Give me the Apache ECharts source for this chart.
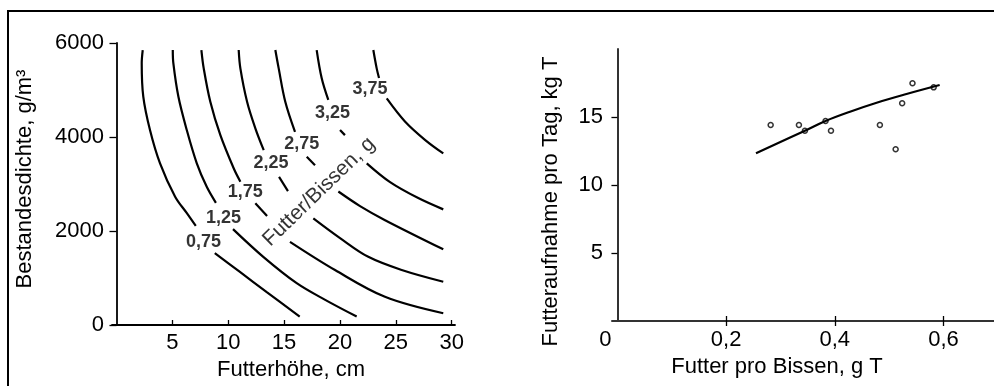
<!DOCTYPE html>
<html>
<head>
<meta charset="utf-8">
<script src="https://cdn.jsdelivr.net/npm/echarts@6/dist/echarts.min.js"></script>
<style>
  html, body { margin: 0; padding: 0; background: #fff; }
  #main { width: 994px; height: 386px; }
</style>
</head>
<body>
<div id="main"></div>
<script>
// left panel: contour lines (Futterhöhe cm, Bestandesdichte g/m3), each split where a label sits
var levels = ['0,75', '1,25', '1,75', '2,25', '2,75', '3,25', '3,75'];
var c075 = [
    [[2.35,5850],[2.26,5570],[2.4,4860],[3.0,4150],[3.9,3440],[5.25,2730],[6.3,2380],[7.1,2110]],
    [[8.8,1530],[11.05,1130],[13.45,700],[16.4,180]]
];
var c125 = [
    [[5.04,5850],[5.09,5570],[5.54,4860],[6.29,4150],[7.19,3440],[8.08,2940],[8.9,2600]],
    [[10.43,2040],[13.14,1450],[16.13,890],[18.68,535],[21.5,180]]
];
var c175 = [
    [[7.6,5850],[7.81,5460],[8.4,4750],[9.3,4040],[10.5,3330],[11.09,3050]],
    [[12.43,2590],[13.48,2320]],
    [[15.53,1770],[19.56,1170],[24.03,600],[29.25,250]]
];
var c225 = [
    [[10.94,5850],[11.09,5460],[11.69,4750],[12.43,4185],[13.18,3720]],
    [[14.55,3150],[15.35,2850]],
    [[17.62,2270],[20.01,1850],[22.54,1450],[25.53,1170],[29.25,920]]
];
var c275 = [
    [[14.22,5850],[14.52,5460],[15.11,4750],[15.98,4110]],
    [[17.03,3580],[17.77,3400]],
    [[19.86,2840],[21.8,2530],[24.04,2230],[29.25,1610]]
];
var c325 = [
    [[17.92,5850],[18.37,5250],[18.96,4790]],
    [[20.01,4150],[20.45,4040]],
    [[22.4,3440],[24.49,3040],[27.01,2700],[29.25,2460]]
];
var c375 = [
    [[22.99,5850],[23.29,5460],[23.5,5255]],
    [[24.19,4820],[25.82,4330],[27.61,3940],[29.25,3650]]
];
var contours = [c075, c125, c175, c225, c275, c325, c375];
// where each level label sits (data units)
var levelLabelPos = [[7.78,1770],[9.58,2270],[11.53,2830],[13.83,3450],[16.58,3850],[19.34,4510],[22.69,5020]];
var contourTitle = 'Futter/Bissen, g';
var contourTitlePos = [18.13, 2836];

var leftXTicks = [5, 10, 15, 20, 25, 30];

// right panel: Futter pro Bissen (g T) vs Futteraufnahme pro Tag (kg T)
var biteSize = [0.282, 0.334, 0.345, 0.383, 0.393, 0.483, 0.512, 0.524, 0.543, 0.582];
var intake   = [14.41, 14.41, 13.99, 14.71, 13.99, 14.41, 12.63, 16.01, 17.48, 17.18];
var fitX = [0.255, 0.345, 0.383, 0.428, 0.477, 0.532, 0.593];
var fitY = [12.33, 13.99, 14.71, 15.39, 16.05, 16.69, 17.35];
var rightXTicks = [0, 0.2, 0.4, 0.6];
var rightYTicks = [5, 10, 15];

var FONT = 'Liberation Sans, Arial, sans-serif';

var series = [];
contours.forEach(function (segs) {
    segs.forEach(function (seg) {
        series.push({
            type: 'line', xAxisIndex: 0, yAxisIndex: 0,
            data: seg, smooth: 0.35, showSymbol: false, silent: true,
            lineStyle: { color: '#000', width: 2.2 }
        });
    });
});
series.push({
    type: 'scatter', xAxisIndex: 0, yAxisIndex: 0, silent: true,
    symbolSize: 1, itemStyle: { color: 'rgba(0,0,0,0)' },
    data: levelLabelPos.map(function (p, i) { return { value: p, name: levels[i] }; }),
    label: {
        show: true, position: 'inside', formatter: '{b}',
        color: '#000', fontFamily: FONT, fontWeight: 'bold', fontSize: 18
    }
});
series.push({
    type: 'scatter', xAxisIndex: 0, yAxisIndex: 0, silent: true,
    symbolSize: 1, itemStyle: { color: 'rgba(0,0,0,0)' },
    data: [{ value: contourTitlePos, name: contourTitle }],
    label: {
        show: true, position: 'inside', formatter: '{b}', rotate: 44,
        color: '#000', fontFamily: FONT, fontSize: 21
    }
});
series.push({
    type: 'line', xAxisIndex: 1, yAxisIndex: 1, silent: true,
    data: fitX.map(function (x, i) { return [x, fitY[i]]; }),
    smooth: 0.4, showSymbol: false,
    lineStyle: { color: '#000', width: 2.2 }
});
series.push({
    type: 'scatter', xAxisIndex: 1, yAxisIndex: 1, silent: true,
    data: biteSize.map(function (x, i) { return [x, intake[i]]; }),
    symbol: 'circle', symbolSize: 5,
    itemStyle: { color: '#fff', borderColor: '#000', borderWidth: 1.5 }
});

var tickFont = { color: '#000', fontFamily: FONT, fontSize: 22 };
var nameFont = { color: '#000', fontFamily: FONT, fontSize: 22 };

var option = {
    animation: false,
    backgroundColor: '#fff',
    graphic: [{
        type: 'polyline',
        shape: { points: [[8, 386], [8, 11], [994, 11]] },
        style: { stroke: '#000', lineWidth: 2, fill: null }
    }],
    grid: [
        { left: 112, top: 43, width: 343, height: 282 },
        { left: 612, top: 49, width: 382, height: 272 }
    ],
    xAxis: [
        {
            gridIndex: 0, type: 'value', min: -0.4, max: 30.3,
            axisLine: { lineStyle: { color: '#000', width: 1.8 } },
            axisTick: { inside: true, length: 5, customValues: leftXTicks, lineStyle: { color: '#000', width: 1.3 } },
            axisLabel: Object.assign({ customValues: leftXTicks, margin: 7 }, tickFont),
            splitLine: { show: false },
            name: 'Futterhöhe, cm', nameLocation: 'middle', nameGap: 34,
            nameTextStyle: Object.assign({ padding: [0, 0, 0, 15] }, nameFont)
        },
        {
            gridIndex: 1, type: 'value', min: -0.01, max: 0.693,
            axisLine: { lineStyle: { color: '#333', width: 2 } },
            axisTick: { inside: true, length: 5, customValues: [0.2, 0.4, 0.6], lineStyle: { color: '#000', width: 1.3 } },
            axisLabel: Object.assign({
                customValues: rightXTicks, margin: 8,
                formatter: function (v) {
                    if (v === 0) return '{z|0}';
                    return String(v).replace('.', ',');
                },
                rich: { z: { fontFamily: FONT, fontSize: 22, color: '#000', padding: [0, 24, 0, 0] } }
            }, tickFont),
            splitLine: { show: false },
            name: 'Futter pro Bissen, g T', nameLocation: 'middle', nameGap: 34,
            nameTextStyle: Object.assign({ padding: [0, 52, 0, 0] }, nameFont)
        },
        {
            // outer half of the right panel's crossing ticks
            gridIndex: 1, type: 'value', position: 'bottom', min: -0.01, max: 0.693,
            axisLine: { show: true, onZero: false, lineStyle: { color: 'rgba(0,0,0,0)' } },
            axisTick: { show: true, length: 5, customValues: [0.2, 0.4, 0.6], lineStyle: { color: '#000', width: 1.3 } },
            axisLabel: { show: false },
            splitLine: { show: false }
        }
    ],
    yAxis: [
        {
            gridIndex: 0, type: 'value', min: 0, max: 6000, interval: 2000,
            axisLine: { show: true, lineStyle: { color: '#000', width: 1.8 } },
            axisTick: { show: true, length: 7, lineStyle: { color: '#000', width: 1.3 } },
            axisLabel: Object.assign({ margin: 8, formatter: function (v) { return String(v); } }, tickFont),
            splitLine: { show: false },
            name: 'Bestandesdichte, g/m³', nameLocation: 'middle', nameGap: 76,
            nameTextStyle: Object.assign({ padding: [0, 0, 0, 10] }, nameFont)
        },
        {
            gridIndex: 1, type: 'value', min: 0, max: 20,
            axisLine: { show: true, lineStyle: { color: '#333', width: 2 } },
            axisTick: { show: true, length: 6, customValues: rightYTicks, lineStyle: { color: '#000', width: 1.3 } },
            axisLabel: Object.assign({ customValues: rightYTicks, margin: 9 }, tickFont),
            splitLine: { show: false },
            name: 'Futteraufnahme pro Tag, kg T', nameLocation: 'middle', nameGap: 50,
            nameTextStyle: Object.assign({ padding: [0, 33, 0, 0] }, nameFont)
        }
    ],
    series: series
};

var chart = echarts.init(document.getElementById('main'));
chart.setOption(option);
</script>
</body>
</html>
